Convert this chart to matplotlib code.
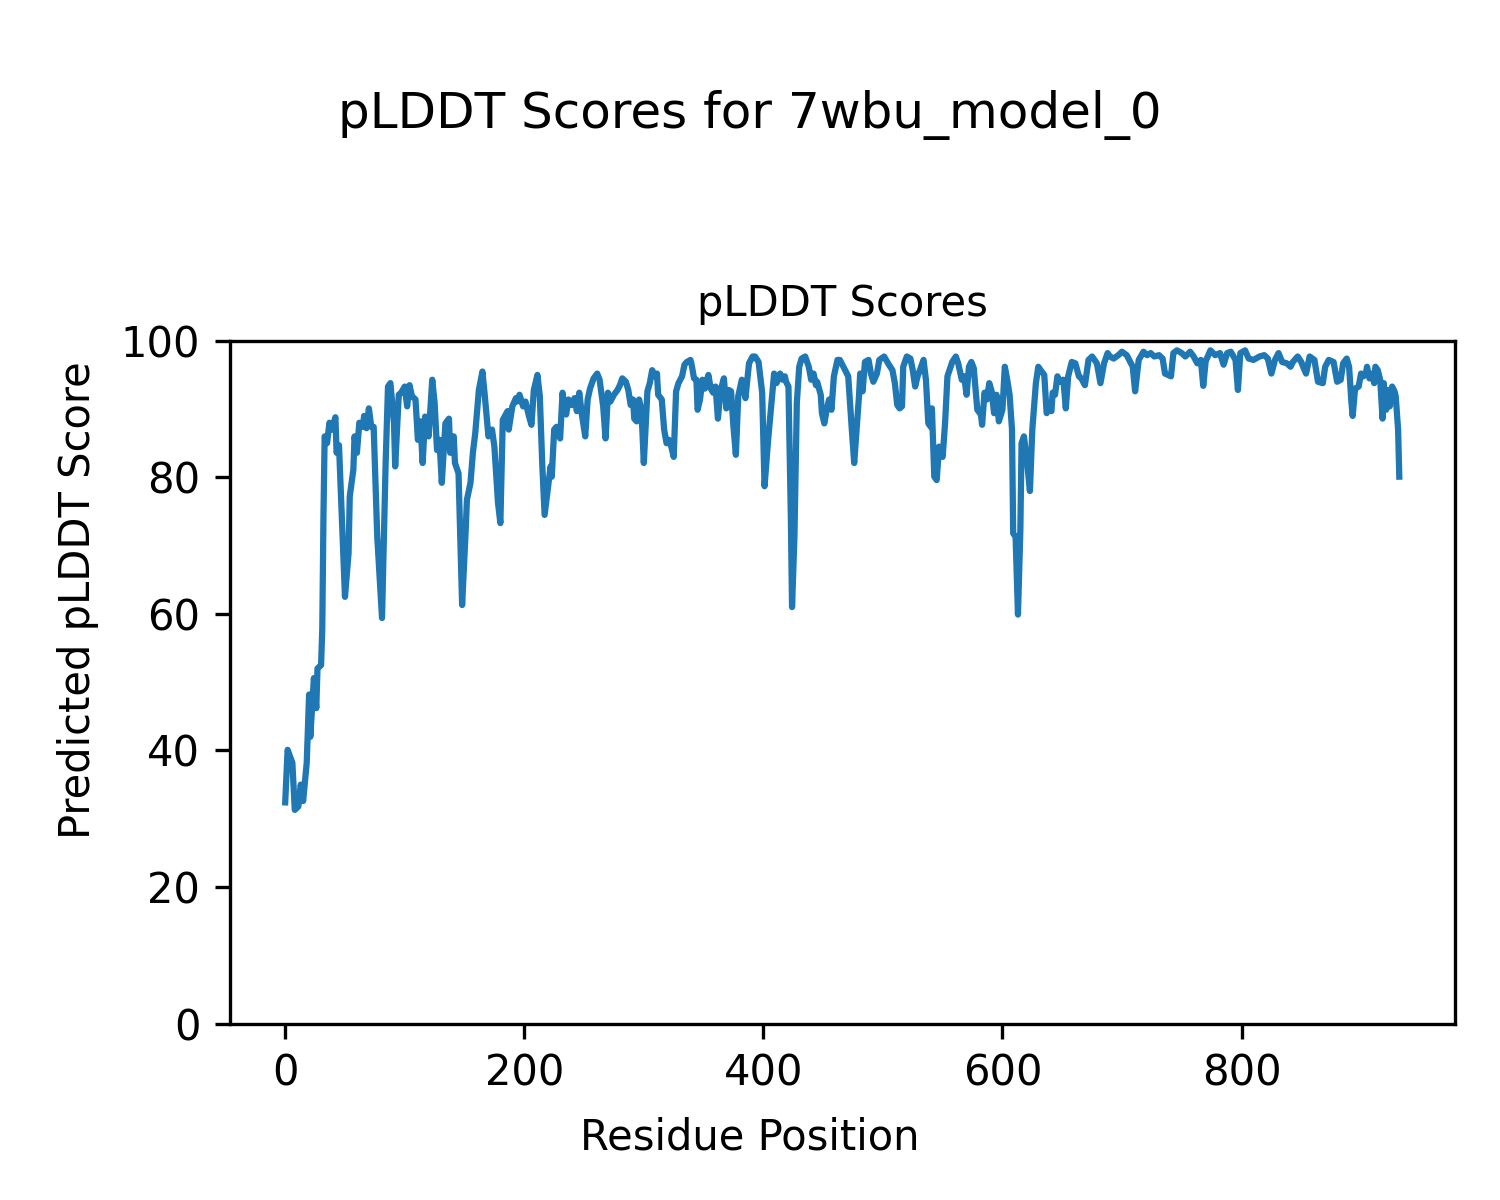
import matplotlib
matplotlib.use("Agg")
import matplotlib.pyplot as plt

# residue positions and pLDDT scores
residues = [0, 2, 6, 8, 11, 13, 15, 18, 20, 21, 24, 26, 27, 30, 31, 32, 33, 35, 37, 39,
            42, 43, 45, 50, 53, 54, 57, 58, 60, 62, 65, 66, 68, 70, 72, 74, 77, 81, 84, 86,
            88, 91, 92, 95, 97, 100, 102, 104, 106, 109, 111, 113, 115, 117, 120, 123, 125, 127, 129, 131,
            134, 137, 138, 141, 142, 145, 148, 151, 152, 155, 157, 159, 162, 165, 167, 170, 173, 175, 178, 180,
            182, 186, 187, 190, 193, 194, 196, 199, 201, 204, 206, 208, 211, 213, 215, 217, 220, 222, 223, 225,
            227, 230, 232, 233, 235, 237, 240, 242, 244, 246, 248, 251, 253, 255, 258, 261, 263, 266, 268, 270,
            272, 275, 278, 280, 282, 285, 287, 289, 291, 292, 294, 296, 298, 300, 303, 305, 307, 309, 311, 312,
            315, 317, 319, 321, 323, 325, 327, 329, 332, 334, 336, 339, 340, 342, 344, 345, 347, 349, 351, 354,
            356, 358, 360, 362, 364, 367, 369, 371, 373, 375, 377, 379, 382, 385, 388, 391, 393, 396, 399, 401,
            404, 406, 409, 411, 414, 416, 418, 419, 421, 423, 424, 426, 428, 430, 432, 435, 438, 440, 442, 444,
            445, 448, 449, 451, 453, 455, 457, 459, 462, 464, 467, 469, 471, 474, 476, 480, 481, 483, 485, 488,
            490, 492, 495, 497, 501, 505, 508, 510, 512, 514, 516, 517, 520, 523, 525, 527, 529, 531, 534, 536,
            538, 540, 541, 543, 545, 547, 550, 552, 554, 558, 561, 563, 566, 568, 570, 572, 574, 576, 579, 582,
            583, 585, 587, 589, 591, 593, 595, 597, 600, 602, 604, 606, 608, 609, 611, 613, 615, 616, 618, 619,
            621, 623, 625, 628, 630, 632, 635, 637, 639, 641, 642, 644, 646, 648, 651, 653, 655, 658, 661, 664,
            666, 669, 672, 675, 679, 682, 685, 688, 690, 693, 697, 700, 704, 709, 711, 714, 718, 721, 724, 727,
            731, 734, 736, 741, 743, 746, 750, 753, 757, 760, 763, 766, 768, 770, 774, 778, 782, 785, 788, 791,
            795, 797, 799, 803, 806, 810, 815, 819, 822, 825, 828, 831, 834, 838, 841, 843, 847, 850, 852, 854,
            857, 861, 864, 868, 870, 873, 877, 880, 883, 885, 888, 890, 892, 893, 895, 898, 900, 902, 904, 905,
            907, 909, 911, 912, 914, 916, 918, 919, 921, 923, 924, 926, 928, 929, 931, 932]
scores = [32.4, 40.1, 38.2, 31.3, 31.8, 35.0, 32.6, 38.2, 48.2, 42.0, 50.6, 46.2, 52.0, 52.5, 57.7, 74.3, 86.0, 85.0, 88.0, 87.0,
          88.8, 83.6, 84.7, 62.5, 68.9, 77.2, 81.1, 86.0, 83.6, 88.0, 87.4, 89.0, 87.2, 90.1, 87.4, 87.4, 71.3, 59.4, 82.0, 93.3,
          93.8, 88.0, 81.6, 92.1, 92.4, 93.3, 90.4, 93.5, 91.9, 91.4, 85.5, 88.2, 82.1, 88.9, 86.0, 94.3, 90.9, 84.0, 85.5, 79.2,
          87.9, 88.6, 83.6, 86.0, 82.1, 80.6, 61.3, 72.3, 76.7, 79.2, 83.6, 86.5, 92.8, 95.5, 91.9, 86.0, 87.0, 84.5, 76.3, 73.3,
          88.4, 89.7, 87.0, 90.4, 91.6, 91.1, 92.1, 90.4, 91.1, 88.9, 87.7, 92.8, 95.0, 91.9, 82.1, 74.5, 78.7, 81.6, 80.1, 87.0,
          87.4, 85.7, 92.4, 90.9, 89.2, 91.4, 90.6, 91.6, 89.7, 92.4, 89.4, 86.0, 91.4, 93.0, 94.5, 95.2, 94.3, 90.4, 85.7, 92.4,
          91.1, 92.1, 92.8, 93.5, 94.5, 94.0, 92.8, 90.6, 91.4, 88.6, 88.2, 91.4, 89.9, 82.1, 92.6, 93.8, 95.7, 94.8, 95.2, 92.1,
          91.4, 87.0, 85.0, 85.5, 84.5, 83.0, 92.6, 93.8, 94.8, 96.5, 96.9, 97.2, 96.5, 94.5, 94.3, 89.9, 91.4, 94.3, 93.0, 95.0,
          93.0, 92.4, 93.3, 88.6, 92.6, 94.5, 90.1, 92.8, 92.6, 87.4, 83.3, 91.9, 94.3, 91.6, 96.7, 97.7, 97.7, 96.9, 92.4, 78.7,
          85.5, 89.4, 95.2, 93.8, 95.2, 94.3, 94.8, 94.0, 93.3, 74.2, 61.0, 71.3, 90.9, 96.2, 97.4, 97.7, 96.2, 94.3, 95.2, 93.5,
          94.0, 92.1, 89.4, 87.9, 89.9, 91.4, 89.9, 94.8, 97.2, 97.2, 96.2, 95.5, 94.8, 87.0, 82.1, 91.9, 95.2, 92.6, 96.9, 97.2,
          95.2, 94.0, 95.2, 97.2, 97.7, 96.5, 95.7, 93.8, 90.6, 90.1, 90.4, 96.2, 97.7, 97.4, 95.7, 93.3, 94.8, 95.7, 97.2, 94.3,
          87.9, 87.4, 90.1, 80.1, 79.6, 84.5, 83.0, 87.9, 94.8, 96.9, 97.7, 96.7, 94.3, 94.8, 92.1, 96.2, 96.9, 96.0, 89.9, 89.2,
          87.7, 92.4, 91.4, 93.8, 92.6, 89.4, 92.1, 88.2, 89.9, 96.2, 94.3, 92.1, 87.0, 71.8, 71.3, 59.9, 72.3, 85.0, 86.0, 84.5,
          81.6, 78.0, 87.0, 93.8, 96.2, 95.7, 95.0, 89.4, 90.1, 89.7, 92.4, 92.1, 94.8, 94.0, 94.3, 90.1, 94.8, 96.9, 96.7, 94.8,
          94.5, 93.5, 97.2, 97.7, 96.7, 93.8, 96.7, 98.2, 97.7, 97.4, 97.9, 98.4, 97.9, 96.2, 92.6, 97.2, 98.4, 97.9, 98.2, 97.7,
          97.9, 97.4, 95.2, 94.8, 98.2, 98.6, 98.2, 97.7, 98.4, 97.7, 96.7, 97.2, 93.4, 97.0, 98.6, 97.9, 98.2, 96.5, 98.2, 98.4,
          97.2, 92.8, 98.2, 98.6, 97.4, 97.2, 97.7, 97.9, 97.4, 95.2, 97.2, 98.2, 96.9, 96.7, 96.2, 96.9, 97.7, 96.9, 96.0, 95.2,
          97.7, 97.2, 94.0, 93.8, 96.2, 97.2, 96.9, 94.0, 94.3, 96.7, 97.4, 96.2, 90.9, 89.0, 93.0, 93.3, 95.2, 94.8, 95.2, 96.2,
          94.5, 95.2, 93.8, 96.2, 95.7, 94.3, 88.6, 93.8, 89.9, 92.8, 90.4, 93.3, 92.6, 91.9, 87.0, 80.1]

fig, ax = plt.subplots(figsize=(5, 4), dpi=300)
fig.subplots_adjust(left=0.153, right=0.97, bottom=0.147, top=0.716)

ax.plot(residues, scores)
ax.set_ylim(0, 100)
ax.set_title("pLDDT Scores", fontsize=10)

# figure-level labels, centred on the whole figure like the original
fig.supxlabel("Residue Position", fontsize=10, y=0.052, va="center")
fig.supylabel("Predicted pLDDT Score", fontsize=10, x=0.052, ha="center")
fig.suptitle("pLDDT Scores for 7wbu_model_0", fontsize=12, y=0.925)

fig.savefig("out.png", dpi=300)
